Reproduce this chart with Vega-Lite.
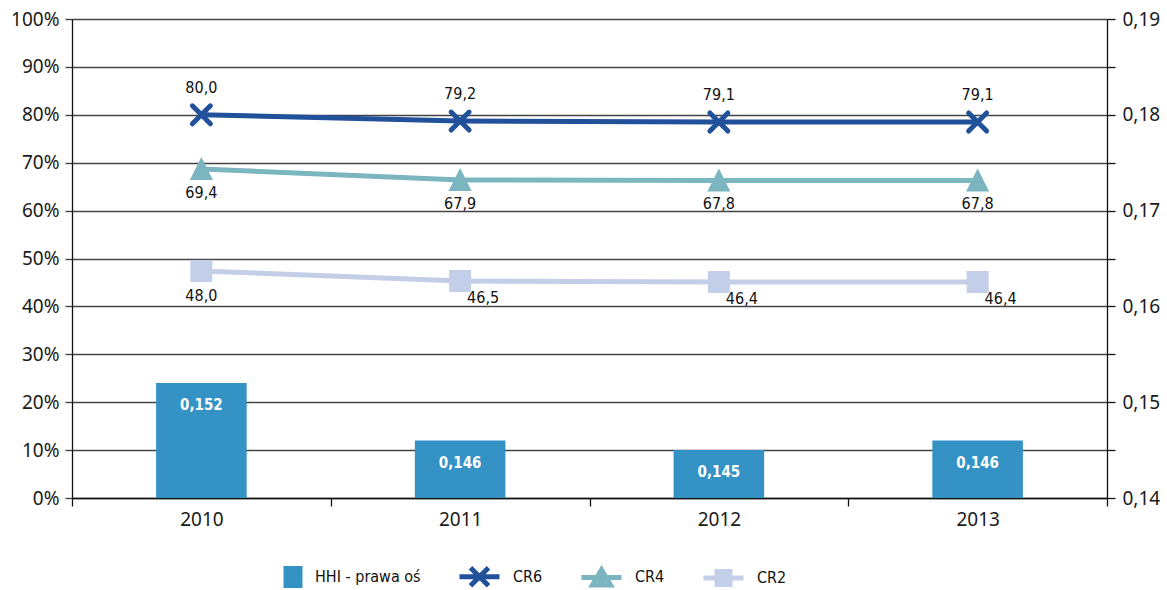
{
  "$schema": "https://vega.github.io/schema/vega-lite/v6.json",
  "autosize": "none",
  "width": 1035,
  "height": 479,
  "padding": {"left": 72, "top": 19, "right": 60, "bottom": 92},
  "background": "white",
  "config": {
    "view": {"stroke": null},
    "font": "Noto Sans",
    "locale": {"number": {"decimal": ",", "thousands": " ", "grouping": [3], "currency": ["", " zł"]}}
  },
  "datasets": {
    "hhi": [
      {"year": "2010", "hhi": 0.152, "series": "HHI - prawa oś"},
      {"year": "2011", "hhi": 0.146, "series": "HHI - prawa oś"},
      {"year": "2012", "hhi": 0.145, "series": "HHI - prawa oś"},
      {"year": "2013", "hhi": 0.146, "series": "HHI - prawa oś"}
    ],
    "cr": [
      {"year": "2010", "series": "CR6", "value": 80.0, "label": 80.0},
      {"year": "2011", "series": "CR6", "value": 78.7, "label": 79.2},
      {"year": "2012", "series": "CR6", "value": 78.5, "label": 79.1},
      {"year": "2013", "series": "CR6", "value": 78.5, "label": 79.1},
      {"year": "2010", "series": "CR4", "value": 68.7, "label": 69.4},
      {"year": "2011", "series": "CR4", "value": 66.4, "label": 67.9},
      {"year": "2012", "series": "CR4", "value": 66.3, "label": 67.8},
      {"year": "2013", "series": "CR4", "value": 66.3, "label": 67.8},
      {"year": "2010", "series": "CR2", "value": 47.4, "label": 48.0},
      {"year": "2011", "series": "CR2", "value": 45.3, "label": 46.5},
      {"year": "2012", "series": "CR2", "value": 45.1, "label": 46.4},
      {"year": "2013", "series": "CR2", "value": 45.1, "label": 46.4}
    ]
  },
  "resolve": {"scale": {"y": "independent"}},
  "encoding": {
    "x": {"field": "year", "type": "nominal", "scale": {"type": "band", "paddingInner": 0, "paddingOuter": 0},
      "axis": {"title": null, "labelAngle": 0, "tickBand": "extent", "tickSize": 8, "labelPadding": 4, "domainWidth": 1.3, "tickWidth": 1.3,
        "labelFont": "Noto Sans", "labelFontSize": 19, "labelColor": "#1a1a1a", "domainColor": "#111", "tickColor": "#111"}}
  },
  "layer": [
    {
      "data": {"name": "hhi"},
      "encoding": {
        "y": {"field": "hhi", "type": "quantitative", "scale": {"domain": [0.14, 0.19], "nice": false, "zero": false},
          "axis": {"orient": "right", "title": null, "grid": false,
            "values": [0.14, 0.145, 0.15, 0.155, 0.16, 0.165, 0.17, 0.175, 0.18, 0.185, 0.19],
            "labelExpr": "round(datum.value * 1000) % 10 == 0 ? replace(format(datum.value, '.2f'), '.', ',') : ''",
            "tickSize": 8, "labelPadding": 7, "domainWidth": 1.3, "tickWidth": 1.3,
            "labelFont": "Noto Sans", "labelFontSize": 19, "labelColor": "#1a1a1a", "domainColor": "#111", "tickColor": "#111"}}
      },
      "layer": [
        {"mark": {"type": "bar", "width": {"band": 0.35}},
          "encoding": {
            "y2": {"datum": 0.14},
            "fill": {"field": "series", "type": "nominal", "legend": null,
              "scale": {"domain": ["HHI - prawa oś", "CR4", "CR2"], "range": ["#3592c5", "#7bb5bf", "#c3cee8"]}}}},
        {"mark": {"type": "text", "baseline": "middle", "dy": 22, "font": "Liberation Sans Narrow, DejaVu Sans Condensed, sans-serif", "fontSize": 15, "fontWeight": "bold", "color": "white"},
          "encoding": {"text": {"field": "hhi", "type": "quantitative", "format": ".3f"}}}
      ]
    },
    {
      "data": {"name": "cr"},
      "encoding": {
        "y": {"field": "value", "type": "quantitative", "scale": {"domain": [0, 100], "nice": false},
          "axis": {"title": null, "values": [0, 10, 20, 30, 40, 50, 60, 70, 80, 90, 100], "labelExpr": "datum.value + '%'",
            "grid": true, "gridColor": "#444", "gridWidth": 1.4, "tickSize": 7, "tickColor": "#444", "tickWidth": 1.4, "labelPadding": 6, "domainWidth": 1.3,
            "labelFont": "Noto Sans", "labelFontSize": 19, "labelColor": "#1a1a1a", "domainColor": "#111"}}
      },
      "layer": [
        {"mark": {"type": "line", "strokeWidth": 5},
          "encoding": {"stroke": {"field": "series", "type": "nominal", "legend": null,
            "scale": {"domain": ["CR6", "CR4", "CR2"], "range": ["#22519c", "#7bb5bf", "#c3cee8"]}}}},
        {"transform": [{"filter": "datum.series == 'CR6'"}],
          "mark": {"type": "point", "filled": false, "shape": "M-1,-1L1,1M-1,1L1,-1", "size": 324, "strokeWidth": 5, "strokeCap": "round", "opacity": 1},
          "encoding": {"stroke": {"field": "series", "type": "nominal", "legend": null}}},
        {"transform": [{"filter": "datum.series == 'CR4'"}],
          "mark": {"type": "point", "filled": true, "shape": "M0,-1.04L1,0.96H-1Z", "size": 529, "opacity": 1},
          "encoding": {"fill": {"field": "series", "type": "nominal", "legend": null}}},
        {"transform": [{"filter": "datum.series == 'CR2'"}],
          "mark": {"type": "point", "filled": true, "shape": "square", "size": 484, "opacity": 1},
          "encoding": {"fill": {"field": "series", "type": "nominal", "legend": null}}},
        {"transform": [{"filter": "datum.series == 'CR6'"}],
          "mark": {"type": "text", "baseline": "middle", "dy": -27, "font": "Liberation Sans Narrow, DejaVu Sans Condensed, sans-serif", "fontSize": 16, "color": "#111"},
          "encoding": {"text": {"field": "label", "type": "quantitative", "format": ".1f"}}},
        {"transform": [{"filter": "datum.series == 'CR4'"}],
          "mark": {"type": "text", "baseline": "middle", "dy": 24, "font": "Liberation Sans Narrow, DejaVu Sans Condensed, sans-serif", "fontSize": 16, "color": "#111"},
          "encoding": {"text": {"field": "label", "type": "quantitative", "format": ".1f"}}},
        {"transform": [{"filter": "datum.series == 'CR2' && datum.year == '2010'"}],
          "mark": {"type": "text", "baseline": "middle", "dy": 25, "font": "Liberation Sans Narrow, DejaVu Sans Condensed, sans-serif", "fontSize": 16, "color": "#111"},
          "encoding": {"text": {"field": "label", "type": "quantitative", "format": ".1f"}}},
        {"transform": [{"filter": "datum.series == 'CR2' && datum.year != '2010'"}],
          "mark": {"type": "text", "baseline": "middle", "dx": 23, "dy": 17, "font": "Liberation Sans Narrow, DejaVu Sans Condensed, sans-serif", "fontSize": 16, "color": "#111"},
          "encoding": {"text": {"field": "label", "type": "quantitative", "format": ".1f"}}},
        {"transform": [{"filter": "false"}],
          "mark": {"type": "point", "filled": false, "size": 1600, "strokeWidth": 5, "opacity": 1},
          "encoding": {
            "color": {"field": "series", "type": "nominal",
              "scale": {"domain": ["HHI - prawa oś", "CR6", "CR4", "CR2"], "range": ["#3592c5", "#22519c", "#7bb5bf", "#c3cee8"]},
              "legend": {"title": null, "orient": "none", "legendX": 187, "legendY": 535, "direction": "horizontal",
                "symbolSize": 1600, "symbolStrokeWidth": 5, "symbolOpacity": 1, "symbolFillColor": "transparent",
                "labelFont": "Liberation Sans Narrow, DejaVu Sans Condensed, sans-serif", "labelFontSize": 16, "labelColor": "#111", "labelOffset": 11,
                "columnPadding": 28, "padding": 0, "labelLimit": 300}},
            "shape": {"field": "series", "type": "nominal",
              "scale": {"domain": ["HHI - prawa oś", "CR6", "CR4", "CR2"],
                "range": [
                  "M0.225,-0.425H0.925V0.425H0.225Z M0.475,-0.175H0.675V0.175H0.475Z M0.475,0H0.675",
                  "M-1,0H1 M-0.45,-0.45L0.45,0.45 M-0.45,0.45L0.45,-0.45",
                  "M-1,0H1 M0,-0.38L0.45,0.38H-0.45Z M-0.2,0.2H0.2",
                  "M-1,0H1 M-0.325,-0.325H0.325V0.325H-0.325Z M-0.075,-0.075H0.075V0.075H-0.075Z"
                ]},
              "legend": {"title": null, "orient": "none", "legendX": 187, "legendY": 535, "direction": "horizontal",
                "symbolSize": 1600, "symbolStrokeWidth": 5, "symbolOpacity": 1, "symbolFillColor": "transparent",
                "labelFont": "Liberation Sans Narrow, DejaVu Sans Condensed, sans-serif", "labelFontSize": 16, "labelColor": "#111", "labelOffset": 11,
                "columnPadding": 28, "padding": 0, "labelLimit": 300}}
          }}
      ]
    }
  ],
  "usermeta": {"embedOptions": {"actions": false}}
}
